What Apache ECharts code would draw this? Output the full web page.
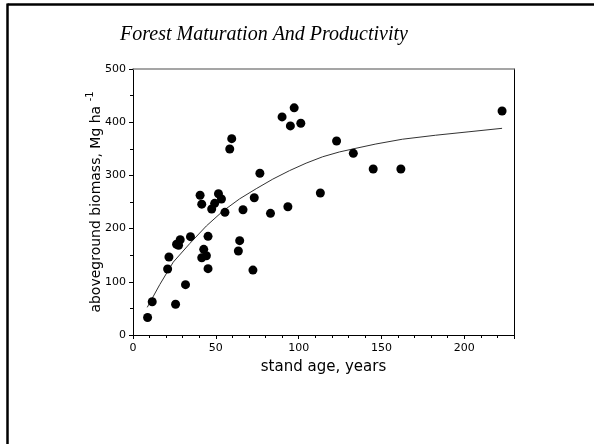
<!DOCTYPE html>
<html><head><meta charset="utf-8">
<script src="https://cdn.jsdelivr.net/npm/echarts@6/dist/echarts.min.js"></script>
<style>html,body{margin:0;padding:0;background:#fff}#c{width:594px;height:444px}</style>
</head><body><div id="c"></div>
<script>
const standAge = [8.8, 11.6, 20.9, 21.7, 25.7, 26.3, 27.5, 28.5, 31.7, 34.7, 41.5, 42.7, 44.3, 45.3, 45.3, 41.5, 47.5, 49.3, 53.4, 51.6, 40.5, 55.5, 63.6, 64.4, 66.4, 72.4, 73.2, 58.4, 59.6, 76.6, 83, 93.5, 90, 97.3, 95, 101.3, 122.9, 133, 145, 161.7, 113.1, 222.8];
const biomass  = [33, 62.6, 124, 146.6, 57.7, 170.5, 168.6, 179, 94.6, 184.8, 145.3, 161, 149, 124.7, 185.5, 246, 236.8, 247.5, 255.6, 265.6, 262.6, 230.6, 157.9, 177.3, 235.5, 122, 258, 349.6, 369, 304, 228.7, 241, 410, 427, 393, 398, 364.7, 341.5, 312, 312, 267, 421];
const fitAge     = [8.6, 16.2, 24.3, 34.3, 44.3, 54.3, 64.4, 74.4, 84.4, 94.5, 104.5, 114.5, 124.5, 134.6, 146.6, 162.6, 182.7, 202.8, 222.8];
const fitBiomass = [52, 95, 137, 172, 205, 233, 256, 275, 293, 309, 323, 335, 344, 351, 359, 368, 375.5, 382, 388.5];
const xTicks = [0, 50, 100, 150, 200];
const yTicks = [0, 100, 200, 300, 400, 500];

const chart = echarts.init(document.getElementById('c'), null, {renderer: 'canvas'});
const pts = standAge.map((x, i) => [x, biomass[i]]);
const fit = fitAge.map((x, i) => [x, fitBiomass[i]]);
const font = 'DejaVu Sans';
chart.setOption({
  animation: false,
  backgroundColor: '#fff',
  title: {
    text: 'Forest Maturation And Productivity',
    left: 259, top: 20, textAlign: 'center',
    textStyle: {fontFamily: 'Liberation Serif', fontStyle: 'italic', fontWeight: 'normal', fontSize: 20, color: '#000'}
  },
  grid: {left: 133, top: 69, right: 80, bottom: 109, show: false},
  xAxis: [{
    type: 'value', min: 0, max: 230, interval: 50,
    name: 'stand age, years', nameLocation: 'middle', nameGap: 25,
    nameTextStyle: {fontFamily: font, fontSize: 15, color: '#000'},
    axisLine: {show: true, onZero: false, lineStyle: {color: '#000', width: 1}},
    axisTick: {show: true, inside: false, length: 4, lineStyle: {color: '#000'}},
    minorTick: {show: true, splitNumber: 5, length: 3, lineStyle: {color: '#000'}},
    splitLine: {show: false},
    axisLabel: {fontFamily: font, fontSize: 11, color: '#000', margin: 8,
      formatter: v => xTicks.includes(v) ? String(v) : ''}
  }, {
    type: 'value', position: 'top', min: 0, max: 230,
    axisLine: {show: true, onZero: false, lineStyle: {color: '#888', width: 1.5}},
    axisTick: {show: false}, axisLabel: {show: false}, splitLine: {show: false}
  }],
  yAxis: [{
    type: 'value', min: 0, max: 500, interval: 100,
    name: '{a|aboveground biomass, Mg ha }{s|-1}', nameLocation: 'middle', nameGap: 30,
    nameMoveOverlap: false,
    nameTextStyle: {fontFamily: font, fontSize: 14, color: '#000',
      rich: {a: {fontFamily: font, fontSize: 14, color: '#000', lineHeight: 18, verticalAlign: 'bottom'},
             s: {fontFamily: font, fontSize: 10, color: '#000', lineHeight: 18, verticalAlign: 'top', padding: [0,0,6,0]}}},
    axisLine: {show: true, onZero: false, lineStyle: {color: '#000', width: 1}},
    axisTick: {show: true, inside: false, length: 4, lineStyle: {color: '#000'}},
    minorTick: {show: true, splitNumber: 2, length: 3, lineStyle: {color: '#000'}},
    splitLine: {show: false},
    axisLabel: {fontFamily: font, fontSize: 11, color: '#000', margin: 7,
      formatter: v => yTicks.includes(v) ? String(v) : ''}
  }, {
    type: 'value', position: 'right', min: 0, max: 500,
    axisLine: {show: true, onZero: false, lineStyle: {color: '#000', width: 1}},
    axisTick: {show: false}, axisLabel: {show: false}, splitLine: {show: false}
  }],
  series: [
    {type: 'line', data: fit, showSymbol: false, symbol: 'none', smooth: false,
     lineStyle: {color: '#333', width: 1}, z: 2},
    {type: 'scatter', data: pts, symbol: 'circle', symbolSize: 9,
     itemStyle: {color: '#000', opacity: 1}, z: 3}
  ],
  graphic: [
    {type: 'line', shape: {x1: 7.5, y1: 4.5, x2: 594, y2: 4.5}, style: {stroke: '#000', lineWidth: 2.5}},
    {type: 'line', shape: {x1: 7.5, y1: 3.5, x2: 7.5, y2: 444}, style: {stroke: '#000', lineWidth: 2.5}}
  ]
});
</script></body></html>
